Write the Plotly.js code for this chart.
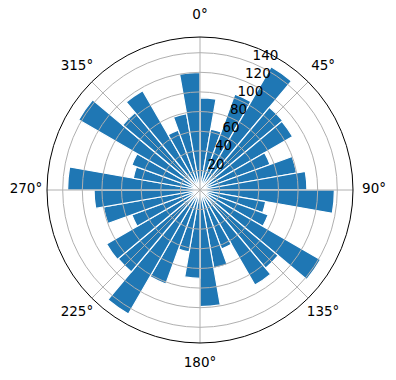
<!DOCTYPE html>
<html><head><meta charset="utf-8">
<script src="https://cdn.plot.ly/plotly-3.0.1.min.js"></script>
<style>html,body{margin:0;padding:0;background:#fff;} #chart{width:396px;height:380px;}</style>
</head><body><div id="chart"></div>
<script>
// bin centres (degrees, clockwise from north) and bar heights
const binCenters = [5,15,25,35,45,55,65,75,85,95,105,115,125,135,145,155,165,175,
                    185,195,205,215,225,235,245,255,265,275,285,295,305,315,325,335,345,355];
const binWidth = 10;
const radii = [94,63,104,145,110,109,76,100,109,137,68,74,142,104,112,64,81,119,
               90,64,102,146,109,110,74,100,108,135,69,74,143,103,117,65,79,120];
const rTicks = [20,40,60,80,100,120,140];
const rTickLabels = ['20','40','60','80','100','120','140'];
const rLabelAngle = 22.5;
const thetaTicks = [0,45,90,135,180,225,270,315];
const thetaLabels = ['0°','45°','90°','135°','180°','225°','270°','315°'];
const rMax = 156;
const thetaLabelPad = 21.5; // radial units beyond the rim where angle labels sit

// geometry (pixels)
const W = 396, H = 380, CX = 200, CY = 190, RPX = 153, RPX3 = 183;
const rMax3 = rMax * RPX3 / RPX;

const font = {family:'DejaVu Sans, sans-serif', size:13.5, color:'#000'};

const bars = {
  type:'barpolar', subplot:'polar',
  r: radii, theta: binCenters, width: binCenters.map(()=>binWidth),
  marker:{color:'#1f77b4', line:{color:'#ffffff', width:1.2}},
  hoverinfo:'skip'
};
const rLabels = {
  type:'scatterpolar', subplot:'polar2', mode:'text',
  r: rTicks, theta: rTicks.map(()=>rLabelAngle), text: rTickLabels,
  textposition:'top right', textfont: font, hoverinfo:'skip', cliponaxis:false
};
const thetaLabelTrace = {
  type:'scatterpolar', subplot:'polar3', mode:'text',
  r: thetaTicks.map(()=>rMax + thetaLabelPad), theta: thetaTicks, text: thetaLabels,
  textposition:'middle center', textfont: font, hoverinfo:'skip', cliponaxis:false
};

function dom(rpx){
  return {x:[(CX-rpx)/W, (CX+rpx)/W], y:[(H-CY-rpx)/H, (H-CY+rpx)/H]};
}
const axisBase = {rotation:90, direction:'clockwise'};
const hiddenAxes = (range) => ({
  radialaxis:{range:range, showgrid:false, showticklabels:false, showline:false, ticks:''},
  angularaxis:Object.assign({showgrid:false, showticklabels:false, showline:false, ticks:''}, axisBase)
});
const layout = {
  width:W, height:H, showlegend:false,
  margin:{l:0, r:0, t:0, b:0},
  paper_bgcolor:'#fff', font: font,
  polar:Object.assign({domain:dom(RPX), bgcolor:'#fff'}, hiddenAxes([0,rMax])),
  polar2:{
    domain:dom(RPX), bgcolor:'rgba(0,0,0,0)',
    radialaxis:{range:[0,rMax], tickmode:'array', tickvals:rTicks, showgrid:true,
                gridcolor:'#b0b0b0', gridwidth:1, showticklabels:false, showline:false, ticks:''},
    angularaxis:Object.assign({tickmode:'array', tickvals:thetaTicks, ticktext:thetaLabels,
                showgrid:true, gridcolor:'#b0b0b0', gridwidth:1,
                showline:true, linecolor:'#000', linewidth:1,
                ticks:'', showticklabels:false}, axisBase)
  },
  polar3:Object.assign({domain:dom(RPX3), bgcolor:'rgba(0,0,0,0)'}, hiddenAxes([0,rMax3]))
};
Plotly.newPlot('chart', [bars, rLabels, thetaLabelTrace], layout, {staticPlot:true, displayModeBar:false});
</script></body></html>
